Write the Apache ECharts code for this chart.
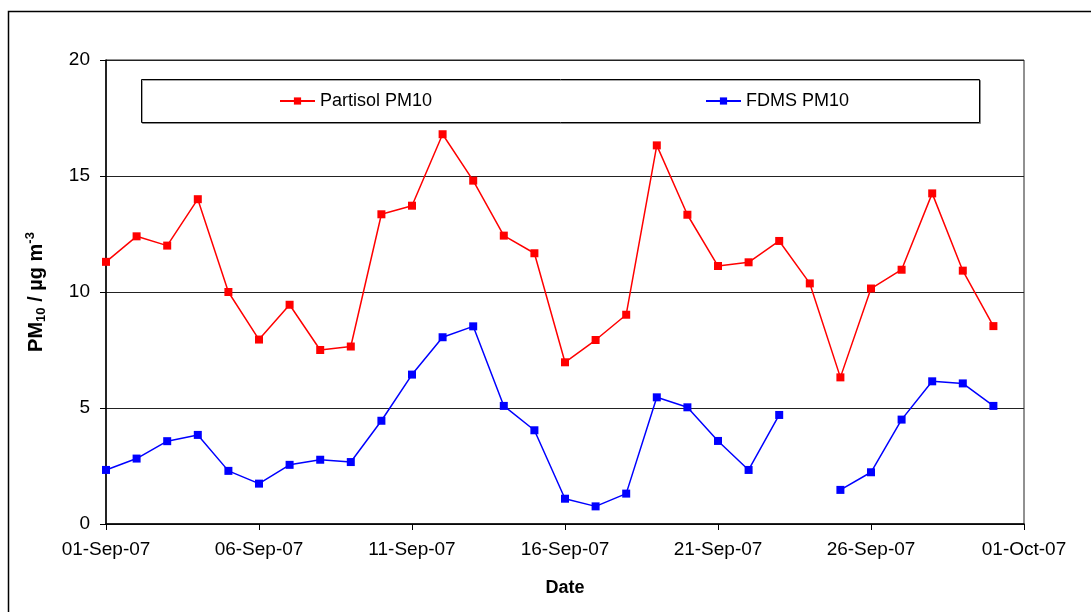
<!DOCTYPE html>
<html>
<head>
<meta charset="utf-8">
<script src="https://cdn.jsdelivr.net/npm/echarts@6/dist/echarts.min.js"></script>
<style>
* { margin: 0; padding: 0; }
#chart { width: 1091px; height: 612px; background: #fff; }
</style>
</head>
<body>
<div id="chart"></div>
<script>
// day index 0 = 01-Sep-07
const dayIndex = [0, 1, 2, 3, 4, 5, 6, 7, 8, 9, 10, 11, 12, 13, 14, 15, 16, 17, 18, 19, 20, 21, 22, 23, 24, 25, 26, 27, 28, 29]
const partisol = [11.3, 12.4, 12.0, 14.0, 10.0, 7.95, 9.45, 7.5, 7.65, 13.35,
  13.72, 16.8, 14.8, 12.43, 11.67, 6.97, 7.93, 9.02, 16.32, 13.33,
  11.12, 11.28, 12.2, 10.37, 6.32, 10.15, 10.96, 14.25, 10.92, 8.53]
const fdms = [2.33, 2.82, 3.57, 3.84, 2.29, 1.74, 2.55, 2.77, 2.67, 4.45,
  6.44, 8.05, 8.52, 5.09, 4.04, 1.09, 0.76, 1.31, 5.46, 5.03,
  3.58, 2.33, 4.7, null, 1.47, 2.23, 4.5, 6.15, 6.06, 5.09]
const tickLabels = ['01-Sep-07', '06-Sep-07', '11-Sep-07', '16-Sep-07', '21-Sep-07', '26-Sep-07', '01-Oct-07']

const font = 'Liberation Sans, Arial, sans-serif'
const chart = echarts.init(document.getElementById('chart'))

const pairs = (vals) => dayIndex.map((d, i) => [d, vals[i]])

chart.setOption({
  animation: false,
  textStyle: { fontFamily: font },
  graphic: [
    {
      type: 'rect',
      shape: { x: 8.5, y: 11.5, width: 1200, height: 700 },
      style: { fill: 'none', stroke: '#000', lineWidth: 1.5 },
      z: 0
    },
    {
      type: 'rect',
      shape: { x: 141.5, y: 79.5, width: 838, height: 43 },
      style: { fill: '#fff', stroke: '#000', lineWidth: 1, shadowColor: 'rgba(0,0,0,0.35)', shadowOffsetX: 1, shadowOffsetY: 1 },
      z: 10
    }
  ],
  legend: [
    {
      left: 279, top: 92, padding: 0,
      itemWidth: 35, itemHeight: 9,
      data: ['Partisol PM10'],
      textStyle: { fontSize: 18, color: '#000', fontFamily: font },
      z: 20
    },
    {
      left: 705, top: 92, padding: 0,
      itemWidth: 35, itemHeight: 9,
      data: ['FDMS PM10'],
      textStyle: { fontSize: 18, color: '#000', fontFamily: font },
      z: 20
    }
  ],
  grid: {
    left: 106, right: 67, top: 60, bottom: 88,
    show: true, borderColor: '#222', borderWidth: 1
  },
  xAxis: {
    type: 'value',
    min: 0, max: 30, interval: 5,
    name: 'Date',
    nameLocation: 'middle',
    nameGap: 55,
    nameTextStyle: { fontSize: 18, fontWeight: 'bold', color: '#000' },
    axisLine: { lineStyle: { color: '#000', width: 1.5 } },
    axisTick: { show: true, length: 6, lineStyle: { color: '#000' } },
    axisLabel: {
      fontSize: 19, color: '#000', margin: 16,
      formatter: (v) => tickLabels[v / 5]
    },
    splitLine: { show: false }
  },
  yAxis: {
    type: 'value',
    min: 0, max: 20, interval: 5,
    name: 'PM{sub|10} / µg m{sup|-3}',
    nameLocation: 'middle',
    nameGap: 58,
    nameTextStyle: {
      fontSize: 20, fontWeight: 'bold', color: '#000',
      rich: {
        sub: { fontSize: 13, fontWeight: 'bold', verticalAlign: 'bottom', padding: [7, 0, 0, 0] },
        sup: { fontSize: 13, fontWeight: 'bold', verticalAlign: 'top', padding: [0, 0, 11, 0] }
      }
    },
    axisLine: { show: true, lineStyle: { color: '#000', width: 1.5 } },
    axisTick: { show: true, length: 6, lineStyle: { color: '#000' } },
    axisLabel: { fontSize: 19, color: '#000', margin: 16 },
    splitLine: { show: true, lineStyle: { color: '#222', width: 1 } }
  },
  series: [
    {
      name: 'Partisol PM10',
      type: 'line',
      data: pairs(partisol),
      symbol: 'rect',
      symbolSize: 8,
      itemStyle: { color: '#ff0000' },
      lineStyle: { color: '#ff0000', width: 1.5 },
      z: 5
    },
    {
      name: 'FDMS PM10',
      type: 'line',
      data: pairs(fdms),
      connectNulls: false,
      symbol: 'rect',
      symbolSize: 8,
      itemStyle: { color: '#0000ff' },
      lineStyle: { color: '#0000ff', width: 1.5 },
      z: 5
    }
  ]
})
</script>
</body>
</html>
